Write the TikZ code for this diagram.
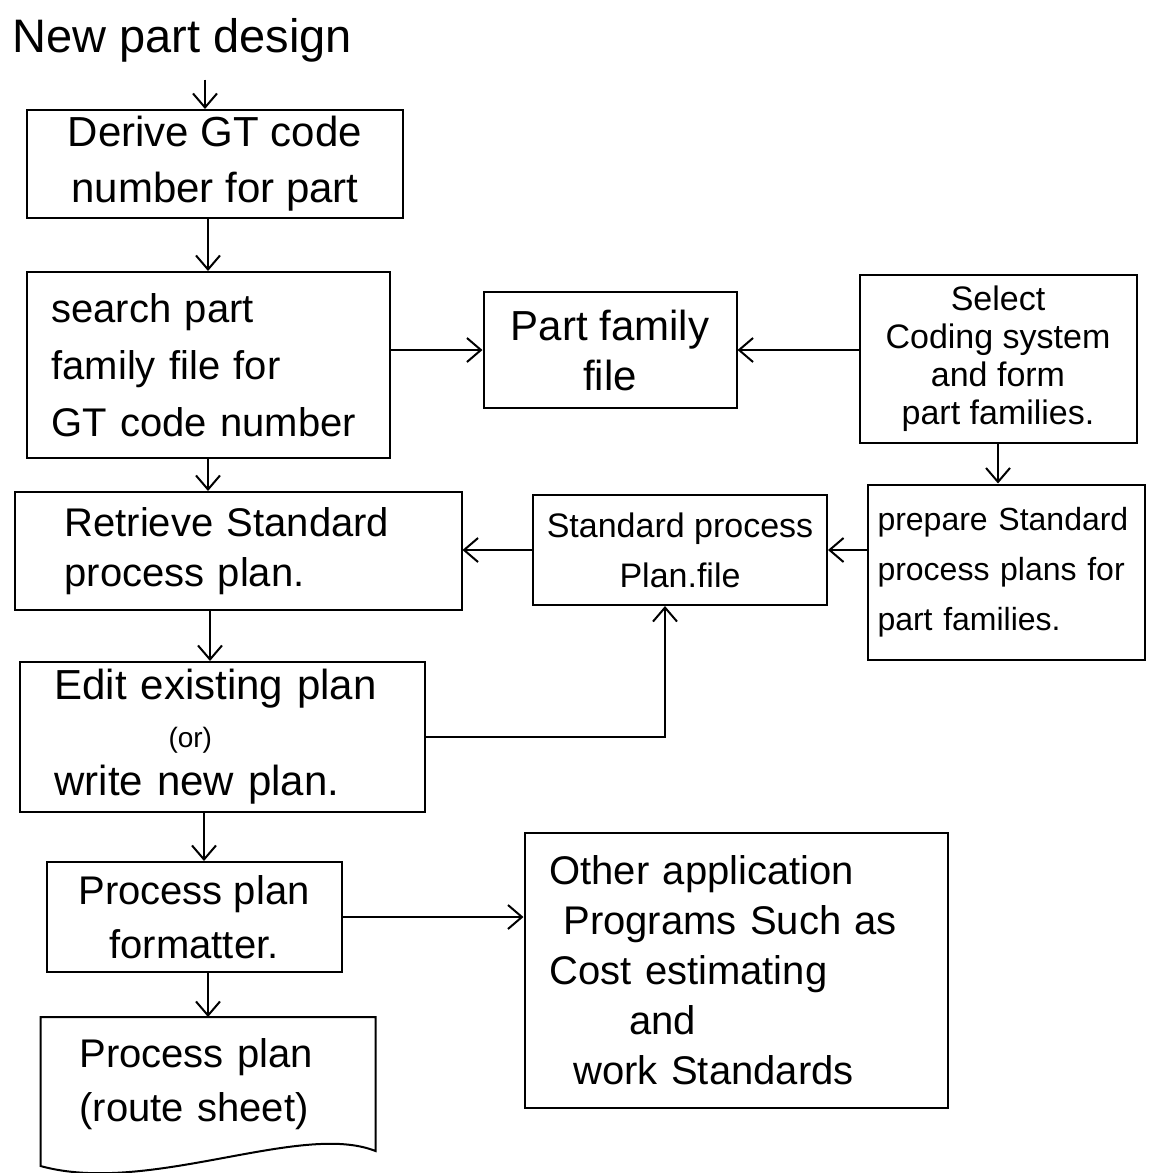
\documentclass[tikz,border=0pt]{standalone}
\usepackage{fontspec}
\setmainfont{Liberation Sans}
\usetikzlibrary{arrows.meta,calc}
\begin{document}
\begin{tikzpicture}[x=0.5pt,y=-0.5pt,
  line width=1pt,
  box/.style={draw, rectangle, inner sep=0pt, font=\fontsize{20}{27}\selectfont},
  arr/.style={-{Straight Barb[length=7pt,width=12pt]}},
  ]
\useasboundingbox (0,0) rectangle (1158,1173);

% heading
\node[font=\fontsize{23.5}{26}\selectfont] (title) at (182,40) {New part design};

% left column
\node[box, minimum width=188pt, minimum height=54pt, align=center,
      font=\fontsize{21}{28}\selectfont] (derive) at (215,164)
      {Derive GT code\\number for part};
\node[box, minimum width=181.5pt, minimum height=93pt, text width=156.5pt,
      inner xsep=12.5pt, align=left, font=\fontsize{20}{28.5}\selectfont] (search) at (208,365)
      {search part\\family file for\\GT code number};
\node[box, minimum width=223.5pt, minimum height=59pt, text width=173.5pt,
      inner xsep=25pt, align=left, font=\fontsize{20}{25}\selectfont] (retrieve) at (238,551)
      {Retrieve Standard\\process plan.};
\node[box, minimum width=202.5pt, minimum height=75pt, text width=167.5pt,
      inner xsep=17.5pt, align=left, font=\fontsize{21}{24}\selectfont] (edit) at (222,737)
      {Edit existing plan\\\hspace*{57pt}{\fontsize{14}{16}\selectfont(or)}\\write new plan.};
\node[box, minimum width=147.5pt, minimum height=55pt, align=center,
      font=\fontsize{20}{27}\selectfont] (formatter) at (194,917)
      {Process plan\\formatter.};
\node[inner sep=0pt, minimum width=166.5pt, minimum height=66pt, text width=128.5pt,
      inner xsep=19pt, align=left, font=\fontsize{20}{27}\selectfont] (sheet) at (208,1084)
      {Process plan\\(route sheet)};
% document outline with a wavy lower edge
\draw (sheet.north west) -- (sheet.north east) -- (sheet.south east)
  .. controls ($(sheet.south east)+(-75,-30)$) and ($(sheet.south west)+(108,45)$)
  .. ($(sheet.south west)+(0,15)$) -- cycle;

% files and right column
\node[box, minimum width=126.5pt, minimum height=58pt, align=center,
      font=\fontsize{21}{25}\selectfont] (pff) at (610,350)
      {Part family\\file};
\node[box, minimum width=138.5pt, minimum height=84pt, align=center,
      font=\fontsize{17}{19}\selectfont] (select) at (998,359)
      {Select\\Coding system\\and form\\part families.};
\node[box, minimum width=147pt, minimum height=55pt, align=center,
      font=\fontsize{17}{25}\selectfont] (spfile) at (680,550)
      {Standard process\\Plan.file};
\node[box, minimum width=138.5pt, minimum height=87.5pt, text width=128.5pt,
      inner xsep=5pt, align=left, font=\fontsize{16}{25}\selectfont] (prepare) at (1006,572)
      {prepare Standard\\process plans for\\part families.};
\node[box, minimum width=211.5pt, minimum height=137.5pt, text width=186.5pt,
      inner xsep=12.5pt, align=left, font=\fontsize{20}{25}\selectfont] (other) at (736,970)
      {Other application\\\hspace*{7pt}Programs Such as\\Cost estimating\\\hspace*{40pt}and\\\hspace*{12pt}work Standards};

% entry points of connectors that sit off the box centres
\coordinate (derivein) at ([xshift=-5pt]derive.north);
\coordinate (editin) at ([xshift=-6pt]edit.north);
\coordinate (fmtin) at ([xshift=5pt]formatter.north);
\coordinate (spin) at ([xshift=-7.5pt]spfile.south);

% connectors
\draw[arr, shorten <=5pt] (derivein |- title.south) -- (derivein);
\draw[arr] (search.north |- derive.south) -- (search.north);
\draw[arr] (search.east |- pff.west) -- (pff.west);
\draw[arr] (select.west |- pff.east) -- (pff.east);
\draw[arr] (search.south) -- (retrieve.north -| search.south);
\draw[arr] (select.south) -- (prepare.north -| select.south);
\draw[arr] (spfile.west) -- (retrieve.east |- spfile.west);
\draw[arr] (prepare.west |- spfile.east) -- (spfile.east);
\draw[arr] (editin |- retrieve.south) -- (editin);
\draw[arr] (edit.east) -- (edit.east -| spin) -- (spin);
\draw[arr] (fmtin |- edit.south) -- (fmtin);
\draw[arr] (formatter.east) -- (other.west |- formatter.east);
\draw[arr] (formatter.south -| sheet.north) -- (sheet.north);
\end{tikzpicture}
\end{document}
